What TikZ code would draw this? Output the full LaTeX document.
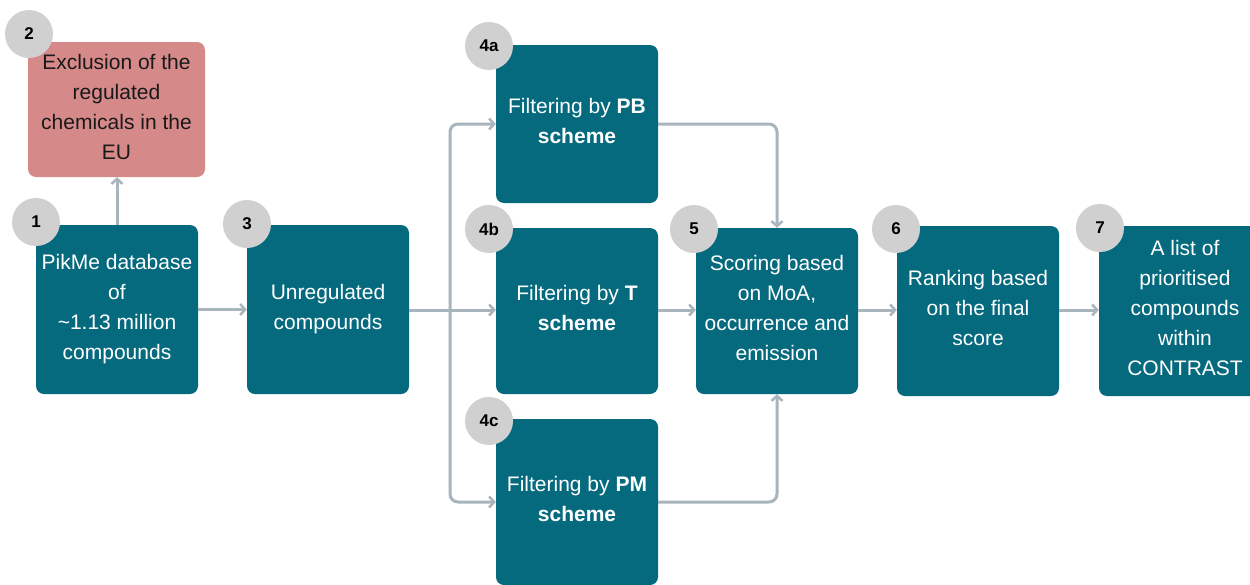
\documentclass[tikz,border=0pt]{standalone}
\usepackage{fontspec}
\setmainfont{Liberation Sans}
\usetikzlibrary{arrows.meta}
\definecolor{teal1}{RGB}{6,106,126}
\definecolor{rose}{RGB}{214,137,137}
\definecolor{badgegrey}{RGB}{208,208,208}
\definecolor{linkgrey}{RGB}{168,181,189}
\tikzset{
  stepbox/.style={rectangle, rounded corners=8pt, fill=teal1, text=white,
    align=center, inner sep=0pt, minimum width=162pt,
    font=\fontsize{21}{30}\selectfont,
    % fixed first-line height and last-line depth keep the text block centred alike
    execute at begin node={\rule{0pt}{15pt}},
    execute at end node={\rule[-6pt]{0pt}{6pt}}},
  excbox/.style={stepbox, fill=rose, text=black!90},
  badge/.style={circle, fill=badgegrey, minimum size=48pt, inner sep=0pt,
    font=\fontsize{17}{20}\selectfont\bfseries, text=black},
  link/.style={draw=linkgrey, line width=3pt, rounded corners=8pt},
  arr/.style={link, -{Straight Barb[length=5pt,width=11pt,line width=2.5pt]}},
}
\begin{document}
\begin{tikzpicture}[x=1pt,y=-1pt]
\clip (0,0) rectangle (1250,584);
\fill[white] (0,0) rectangle (1250,584);

% process boxes
\node[excbox, minimum width=177pt, minimum height=135pt] (b2) at (116.5,109.5)
  {Exclusion of the\\regulated\\chemicals in the\\EU};
\node[stepbox, minimum height=169pt] (b1) at (117,309.5)
  {PikMe database\\of\\\textasciitilde1.13 million\\compounds};
\node[stepbox, minimum height=169pt] (b3) at (328,309.5)
  {Unregulated\\compounds};
\node[stepbox, minimum height=158pt] (b4a) at (577,124)
  {Filtering by \textbf{PB}\\\textbf{scheme}};
\node[stepbox, minimum height=166pt] (b4b) at (577,311)
  {Filtering by \textbf{T}\\\textbf{scheme}};
\node[stepbox, minimum height=166pt] (b4c) at (577,502)
  {Filtering by \textbf{PM}\\\textbf{scheme}};
\node[stepbox, minimum height=166pt] (b5) at (777,311)
  {Scoring based\\on MoA,\\occurrence and\\emission};
\node[stepbox, minimum height=170pt] (b6) at (978,311)
  {Ranking based\\on the final\\score};
\node[stepbox, minimum width=172pt, minimum height=170pt] (b7) at (1185,311)
  {A list of\\prioritised\\compounds\\within\\CONTRAST};

% connectors
\coordinate (split) at (450,310);
\draw[arr] (b1.north) -- (b1.north |- b2.south);
\draw[arr] (b1.east) -- (b3.west);
\draw[arr] (b3.east |- split) -- (b4b.west |- split);
\draw[arr] (split) |- (b4a.west);
\draw[arr] (split) |- (b4c.west);
\draw[arr] (b4a.east) -| (b5.north);
\draw[arr] (b4c.east) -| (b5.south);
\draw[arr] (b4b.east |- split) -- (b5.west |- split);
\draw[arr] (b5.east |- split) -- (b6.west |- split);
\draw[arr] (b6.east |- split) -- (b7.west |- split);

% step numbers
\node[badge] (n2) at (29,34) {2};
\node[badge] (n1) at (36,222) {1};
\node[badge] (n3) at (247,224) {3};
\node[badge] (n4a) at (489,46) {4a};
\node[badge] (n4b) at (489,229) {4b};
\node[badge] (n4c) at (489,421) {4c};
\node[badge] (n5) at (694,229) {5};
\node[badge] (n6) at (896,229) {6};
\node[badge] (n7) at (1100,228) {7};
\end{tikzpicture}
\end{document}
